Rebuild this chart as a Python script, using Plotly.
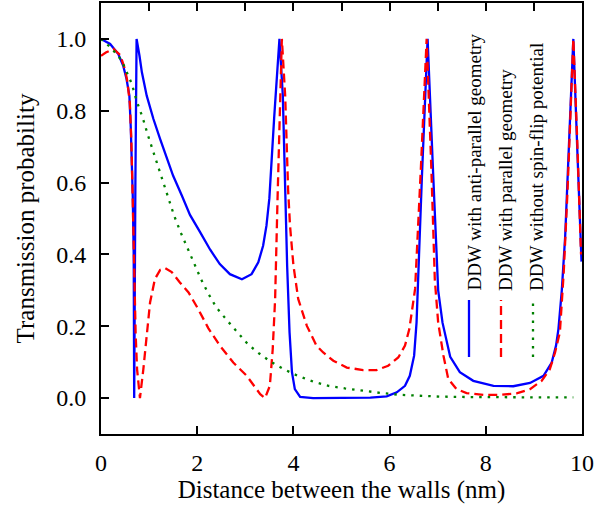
import plotly.graph_objects as go

# ---------------- data ----------------
anti_x = [0, 0.19, 0.36, 0.46, 0.53, 0.59, 0.62, 0.64, 0.66, 0.68, 0.69, 0.715, 0.74, 0.80, 0.85,
          0.95, 1.09, 1.23, 1.37, 1.5, 1.68, 1.85, 2.06, 2.27, 2.47, 2.68, 2.93, 3.13, 3.27, 3.37,
          3.44, 3.5, 3.6, 3.71, 3.78, 3.83, 3.87, 3.92, 3.97, 4.03, 4.14, 4.41, 5.0, 5.6, 5.94,
          6.15, 6.32, 6.42, 6.51, 6.56, 6.67, 6.79, 6.91, 7.01, 7.1, 7.26, 7.46, 7.74, 8.16, 8.57,
          8.92, 9.2, 9.37, 9.46, 9.51, 9.58, 9.65, 9.74, 9.82, 9.9, 9.99]
anti_y = [1.0, 0.986, 0.958, 0.926, 0.889, 0.842, 0.749, 0.657, 0.564, 0.4, 0.0, 0.6, 1.0, 0.953, 0.907,
          0.842, 0.777, 0.721, 0.666, 0.619, 0.564, 0.51, 0.462, 0.413, 0.373, 0.345, 0.331, 0.345, 0.378, 0.424,
          0.48, 0.556, 0.78, 1.0, 0.842, 0.53, 0.368, 0.183, 0.072, 0.025, 0.003, 0.0, 0.0, 0.001, 0.005,
          0.016, 0.034, 0.062, 0.118, 0.21, 0.61, 1.0, 0.61, 0.30, 0.21, 0.115, 0.072, 0.048, 0.034, 0.033,
          0.042, 0.062, 0.099, 0.146, 0.192, 0.3, 0.45, 0.73, 1.0, 0.7, 0.38]

par_x = [0, 0.1, 0.26, 0.4, 0.5, 0.55, 0.6, 0.63, 0.66, 0.69, 0.72, 0.75, 0.78, 0.81, 0.88,
         0.95, 1.02, 1.12, 1.23, 1.33, 1.47, 1.64, 1.82, 2.02, 2.23, 2.47, 2.75, 3.03, 3.31, 3.41,
         3.51, 3.57, 3.62, 3.67, 3.76, 3.83, 3.89, 3.93, 4.0, 4.1, 4.28, 4.48, 4.62, 4.83, 5.11,
         5.45, 5.73, 5.97, 6.18, 6.32, 6.41, 6.48, 6.53, 6.65, 6.77, 6.87, 6.94, 7.01, 7.12, 7.22,
         7.39, 7.6, 7.95, 8.3, 8.64, 8.92, 9.16, 9.33, 9.44, 9.54, 9.62, 9.7, 9.76, 9.82, 9.9, 9.98]
par_y = [0.953, 0.962, 0.972, 0.955, 0.915, 0.88, 0.82, 0.72, 0.55, 0.35, 0.18, 0.08, 0.04, 0.0, 0.08,
         0.174, 0.266, 0.331, 0.357, 0.362, 0.351, 0.322, 0.294, 0.248, 0.195, 0.146, 0.099, 0.062, 0.011, 0.0,
         0.034, 0.136, 0.276, 0.554, 1.0, 0.84, 0.58, 0.48, 0.37, 0.276, 0.201, 0.146, 0.127, 0.104, 0.085,
         0.078, 0.078, 0.09, 0.113, 0.146, 0.192, 0.257, 0.304, 0.64, 1.0, 0.63, 0.33, 0.21, 0.118, 0.053,
         0.025, 0.014, 0.009, 0.009, 0.013, 0.025, 0.048, 0.08, 0.127, 0.183, 0.35, 0.58, 0.8, 1.0, 0.72, 0.4]

nosf_x = [0, 0.22, 0.43, 0.555, 0.64, 0.74, 0.87, 0.98, 1.09, 1.2, 1.3, 1.41, 1.52, 1.66, 1.8,
          1.93, 2.08, 2.23, 2.4, 2.61, 2.82, 3.06, 3.29, 3.53, 3.79, 4.09, 4.41, 4.73, 5.07, 5.45,
          5.84, 6.22, 6.63, 7.05, 7.6, 8.2, 9.0, 9.82]
nosf_y = [1.0, 0.974, 0.94, 0.898, 0.875, 0.828, 0.779, 0.73, 0.686, 0.641, 0.596, 0.552, 0.508, 0.46, 0.417,
          0.373, 0.331, 0.291, 0.252, 0.218, 0.185, 0.149, 0.124, 0.101, 0.081, 0.062, 0.046, 0.034, 0.027, 0.02,
          0.014, 0.009, 0.006, 0.004, 0.003, 0.002, 0.002, 0.002]

labels = ["DDW with anti-parallel geometry",
          "DDW with parallel geometry",
          "DDW without spin-flip potential"]
x_ticks = [0, 2, 4, 6, 8, 10]
y_ticks = [0.0, 0.2, 0.4, 0.6, 0.8, 1.0]

# ---------------- figure ----------------
FONT = "Liberation Serif, Times New Roman, serif"
colors = ["#0000FF", "#FF0000", "#008000"]
dashes = ["solid", "9px,5px", "2.5px,6px"]
series = [(anti_x, anti_y), (par_x, par_y), (nosf_x, nosf_y)]

fig = go.Figure()
for (xs, ys), lab, c, d in zip(series, labels, colors, dashes):
    fig.add_trace(go.Scatter(x=xs, y=ys, mode="lines", name=lab,
                             line=dict(color=c, width=2.3, dash=d), showlegend=False))

# invisible trace to anchor the top axis
fig.add_trace(go.Scatter(x=[x_ticks[0], x_ticks[-1]], y=[y_ticks[0], y_ticks[0]], xaxis="x2",
                         mode="lines", line=dict(width=0), opacity=0, showlegend=False,
                         hoverinfo="skip"))

L, R, T, B = 101, 30, 3, 73
W, H = 612, 507
pw, ph = W - L - R, H - T - B

fig.update_layout(
    width=W, height=H,
    margin=dict(l=L, r=R, t=T, b=B),
    paper_bgcolor="white", plot_bgcolor="white",
    font=dict(family=FONT, color="black", size=23),
    xaxis=dict(range=[0, 10], tickvals=x_ticks, ticks="inside", ticklen=8, tickwidth=1.5,
               tickcolor="black", showline=True, linecolor="black", linewidth=2,
               showgrid=False, zeroline=False, mirror=False,
               tickfont=dict(size=24, family=FONT), ticklabelstandoff=6,
               title=dict(text="Distance between the walls (nm)", font=dict(size=25, family=FONT),
                          standoff=0)),
    xaxis2=dict(range=[0, 10], overlaying="x", side="top", anchor="y", dtick=1, tick0=0,
                ticks="inside", ticklen=8, tickwidth=1.5, tickcolor="black",
                showticklabels=False, showline=True, linecolor="black", linewidth=2,
                showgrid=False, zeroline=False),
    yaxis=dict(range=[-0.1, 1.1], tickvals=y_ticks, ticktext=[f"{v:.1f}" for v in y_ticks],
               ticks="inside", ticklen=8, tickwidth=1.5, tickcolor="black",
               showline=True, linecolor="black", linewidth=2, mirror=True,
               showgrid=False, zeroline=False,
               tickfont=dict(size=24, family=FONT), ticklabelstandoff=8,
               title=dict(text="Transmission probability", font=dict(size=25, family=FONT),
                          standoff=14)),
)

# rotated legend: text + short line samples
text_cx = [474, 505, 536]
line_x = [469, 501, 533]
text_bottom = 293
line_top, line_bot = 300, 357
for lab, c, d, tx, lx in zip(labels, colors, dashes, text_cx, line_x):
    fig.add_annotation(text=lab, textangle=-90, xref="paper", yref="paper",
                       x=(tx - L) / pw, y=(H - B - text_bottom) / ph,
                       xanchor="center", yanchor="bottom", showarrow=False,
                       font=dict(size=19, family=FONT, color="black"))
    fig.add_shape(type="line", xref="paper", yref="paper",
                  x0=(lx - L) / pw, x1=(lx - L) / pw,
                  y0=(H - B - line_bot) / ph, y1=(H - B - line_top) / ph,
                  line=dict(color=c, width=2.3, dash=d))

fig.write_html("out.html", config={"displayModeBar": False},
               post_script="document.body.style.margin='0';document.body.style.overflow='hidden';")
